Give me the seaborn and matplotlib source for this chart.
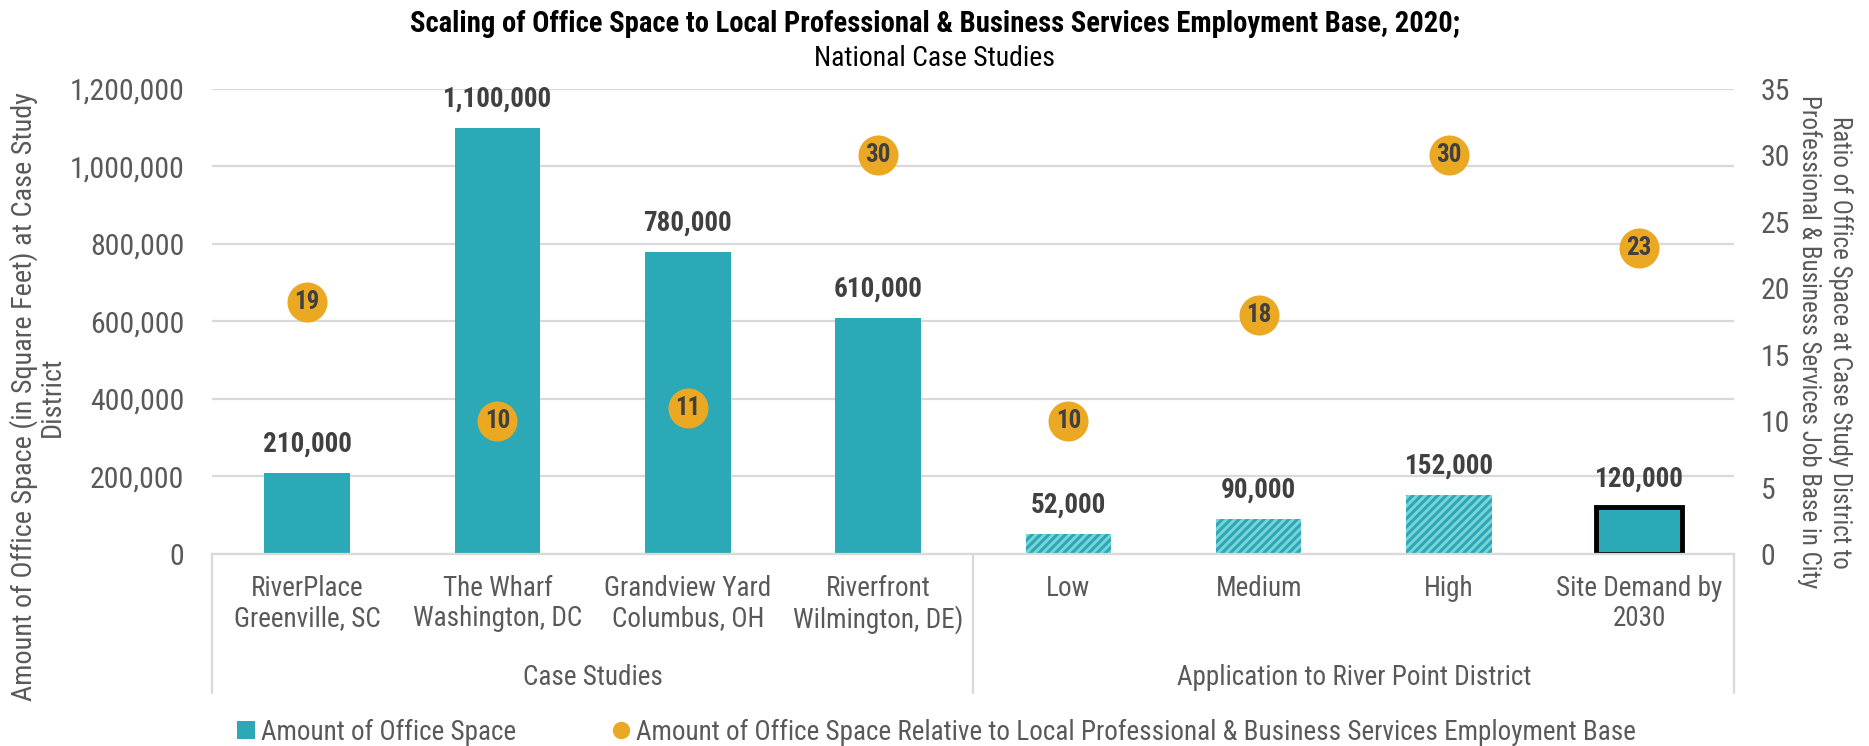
import matplotlib
matplotlib.use("Agg")
import matplotlib.pyplot as plt
import matplotlib.ticker as mticker
from matplotlib.lines import Line2D
import numpy as np
import pandas as pd
import seaborn as sns

# ---- data -------------------------------------------------------------
categories = [
    "RiverPlace\nGreenville, SC",
    "The Wharf\nWashington, DC",
    "Grandview Yard\nColumbus, OH",
    "Riverfront\nWilmington, DE)",
    "Low",
    "Medium",
    "High",
    "Site Demand by\n2030",
]
office_space = [210000, 1100000, 780000, 610000, 52000, 90000, 152000, 120000]
space_ratio = [19, 10, 11, 30, 10, 18, 30, 23]
groups = ["Case Studies"] * 4 + ["Application to River Point District"] * 4
bar_kind = ["solid"] * 4 + ["scenario"] * 3 + ["target"]

left_ticks = [0, 200000, 400000, 600000, 800000, 1000000, 1200000]
right_ticks = [0, 5, 10, 15, 20, 25, 30, 35]

title = "Scaling of Office Space to Local Professional & Business Services Employment Base, 2020;"
subtitle = "National Case Studies"
left_label = "Amount of Office Space (in Square Feet) at Case Study\nDistrict"
right_label = ("Ratio of Office Space at Case Study District to\n"
               "Professional & Business Services Job Base in City")
legend_labels = [
    "Amount of Office Space",
    "Amount of Office Space Relative to Local Professional & Business Services Employment Base",
]

# ---- style ------------------------------------------------------------
TEAL = "#2BA9B7"
TEAL_LIGHT = "#7DD3D9"
ORANGE = "#EAA823"
GRID = "#D9D9D9"
TICK = "#595959"
LABEL = "#404040"
TEXT_SIZE = 19.5

sns.set_theme(style="white")
plt.rcParams["font.family"] = ["Roboto Condensed", "Liberation Sans", "DejaVu Sans"]
plt.rcParams["hatch.linewidth"] = 2.2

df = pd.DataFrame({"category": categories, "office": office_space,
                   "ratio": space_ratio, "group": groups, "kind": bar_kind})
df["pos"] = np.arange(len(df))

fig = plt.figure(figsize=(18.69, 7.46), dpi=100)
ax = fig.add_axes([0.1134, 0.2574, 0.8146, 0.6233])

sns.barplot(data=df, x="category", y="office", color=TEAL, saturation=1,
            width=0.45, ax=ax, zorder=2)

for patch, kind in zip(ax.patches, df["kind"]):
    if kind == "scenario":
        patch.set_facecolor(TEAL_LIGHT)
        patch.set_edgecolor(TEAL)
        patch.set_hatch("////")
        patch.set_linewidth(0)
    elif kind == "target":
        patch.set_edgecolor("black")
        patch.set_linewidth(3.5)
    else:
        patch.set_linewidth(0)

# value labels above bars
for patch, val in zip(ax.patches, df["office"]):
    ax.annotate(f"{val:,.0f}", (patch.get_x() + patch.get_width() / 2, val),
                xytext=(0, 11), textcoords="offset points", ha="center", va="bottom",
                fontsize=19.5, fontweight="bold", color=LABEL)

ax.set_ylim(0, 1200000)
ax.set_yticks(left_ticks)
ax.yaxis.set_major_formatter(mticker.FuncFormatter(lambda v, p: f"{v:,.0f}"))
ax.set_xlim(-0.5, len(df) - 0.5)
ax.grid(axis="y", color=GRID, linewidth=1.6, zorder=0)
ax.set_axisbelow(True)
for side in ["top", "left", "right"]:
    ax.spines[side].set_visible(False)
ax.spines["bottom"].set_color(GRID)
ax.spines["bottom"].set_linewidth(1.6)
ax.tick_params(axis="y", length=0, pad=20, labelsize=21.5, labelcolor=TICK)
ax.tick_params(axis="x", length=0, pad=15, labelsize=TEXT_SIZE, labelcolor=TICK)
for lbl in ax.get_xticklabels():
    lbl.set_linespacing(1.15)
ax.set_xlabel("")
ax.set_ylabel("")

# group labels and separators beneath the category axis
for grp, sub in df.groupby("group", sort=False):
    ax.text(sub["pos"].mean(), -0.265, grp, transform=ax.get_xaxis_transform(),
            ha="center", va="center", fontsize=TEXT_SIZE, color=TICK)
for xpos in [-0.5, 3.5, 7.5]:
    ax.plot([xpos, xpos], [0, -0.30], transform=ax.get_xaxis_transform(),
            color=GRID, linewidth=1.6, clip_on=False)

# ratio dots on secondary axis
ax2 = ax.twinx()
sns.scatterplot(data=df, x="pos", y="ratio", color=ORANGE, s=830, linewidth=0,
                ax=ax2, zorder=5, legend=False)
for xp, r in zip(df["pos"], df["ratio"]):
    ax2.text(xp, r, f"{r}", ha="center", va="center", fontsize=18,
             fontweight="bold", color=LABEL, zorder=6)
ax2.set_ylim(0, 35)
ax2.set_yticks(right_ticks)
ax2.set_xlim(-0.5, len(df) - 0.5)
for side in ["top", "left", "right", "bottom"]:
    ax2.spines[side].set_visible(False)
ax2.tick_params(axis="y", length=0, pad=19, labelsize=21.5, labelcolor=TICK)
ax2.set_ylabel("")
ax2.set_xlabel("")
ax2.grid(False)

# axis titles
fig.text(0.0203, 0.468, left_label, rotation=90, ha="center", va="center",
         fontsize=20.3, color=TICK, linespacing=1.05)
fig.text(0.9765, 0.5416, right_label, rotation=-90, ha="center", va="center",
         fontsize=18, color=TICK, linespacing=1.28)

# titles
fig.text(0.5, 1 - 24 / 746, title, ha="center", va="center", fontsize=20.6,
         fontweight="bold", color="black")
fig.text(0.5, 1 - 58 / 746, subtitle, ha="center", va="center", fontsize=20,
         color="black")

# legend
handles = [
    Line2D([], [], marker="s", linestyle="none", markersize=12.5,
           markerfacecolor=TEAL, markeredgewidth=0),
    Line2D([], [], marker="o", linestyle="none", markersize=12.5,
           markerfacecolor=ORANGE, markeredgewidth=0),
]
fig.legend(handles, legend_labels, loc="center left",
           bbox_to_anchor=(235 / 1869, 1 - 732 / 746), ncol=2, frameon=False,
           fontsize=TEXT_SIZE, labelcolor=TICK, handletextpad=0.15, handlelength=0.8,
           columnspacing=3.5, borderaxespad=0, borderpad=0)

fig.savefig("out.png", dpi=100, facecolor="white")
